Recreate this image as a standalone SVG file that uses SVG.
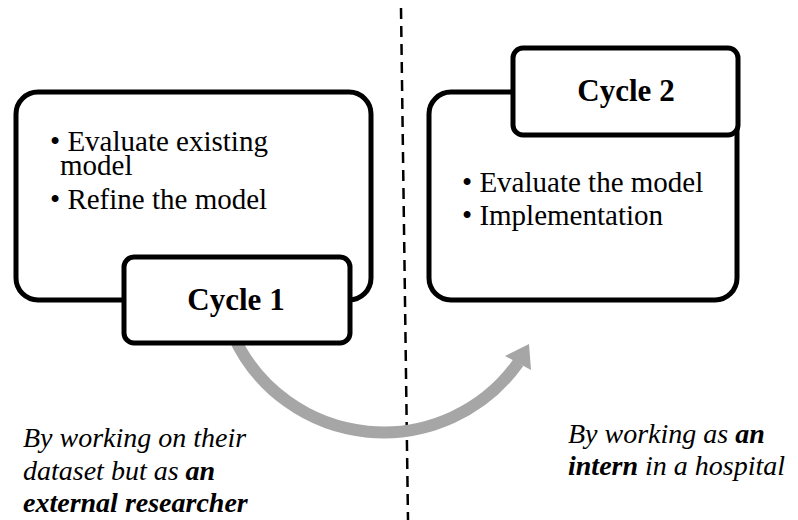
<svg xmlns="http://www.w3.org/2000/svg" width="798" height="520" viewBox="0 0 798 520">
  <style>
    .panel { fill: #ffffff; stroke: #000000; stroke-width: 5; }
    .tab { fill: #ffffff; stroke: #000000; stroke-width: 5; }
    .body { font-family: "Liberation Serif", "Times New Roman", serif; font-size: 29px; fill: #000000; }
    .title { font-family: "Liberation Serif", "Times New Roman", serif; font-size: 31px; font-weight: bold; fill: #000000; text-anchor: middle; }
    .note { font-family: "Liberation Serif", "Times New Roman", serif; font-size: 28px; font-style: italic; fill: #000000; }
    .strong { font-weight: bold; }
    .divider { stroke: #000000; stroke-width: 2.5; stroke-dasharray: 11 7; fill: none; }
    .flow { stroke: #a6a6a6; stroke-width: 12; fill: none; }
    .flow-head { fill: #a6a6a6; }
  </style>

  <rect width="798" height="520" fill="#ffffff"/>

  <!-- vertical dashed divider -->
  <line class="divider" x1="401" y1="8" x2="408" y2="520"/>

  <!-- curved arrow from Cycle 1 to Cycle 2 -->
  <g id="connectors">
    <path class="flow" d="M 233 335 A 165 165 0 0 0 518.4 362.5"/>
    <polygon class="flow-head" points="529,344 505,356 531,370"/>
  </g>

  <!-- Cycle 1 -->
  <g id="cycle1">
    <rect class="panel" x="16" y="92" width="355" height="208" rx="22" ry="22"/>
    <text class="body" x="50" y="151">• Evaluate existing</text>
    <text class="body" x="60" y="175">model</text>
    <text class="body" x="50" y="209">• Refine the model</text>
    <rect class="tab" x="124" y="257" width="226" height="86" rx="10" ry="10"/>
    <text class="title" x="236" y="310">Cycle 1</text>
  </g>

  <!-- Cycle 2 -->
  <g id="cycle2">
    <rect class="panel" x="429" y="92" width="308" height="208" rx="22" ry="22"/>
    <rect class="tab" x="513" y="48" width="225" height="87" rx="10" ry="10"/>
    <text class="title" x="626" y="101">Cycle 2</text>
    <text class="body" x="462" y="192">• Evaluate the model</text>
    <text class="body" x="462" y="225">• Implementation</text>
  </g>

  <!-- role notes -->
  <g id="note1">
    <text class="note" x="23" y="447">By working on their</text>
    <text class="note" x="23" y="480">dataset but as <tspan class="strong">an</tspan></text>
    <text class="note strong" x="23" y="512">external researcher</text>
  </g>
  <g id="note2">
    <text class="note" x="568" y="443">By working as <tspan class="strong">an</tspan></text>
    <text class="note" x="568" y="475"><tspan class="strong">intern</tspan> in a hospital</text>
  </g>
</svg>
